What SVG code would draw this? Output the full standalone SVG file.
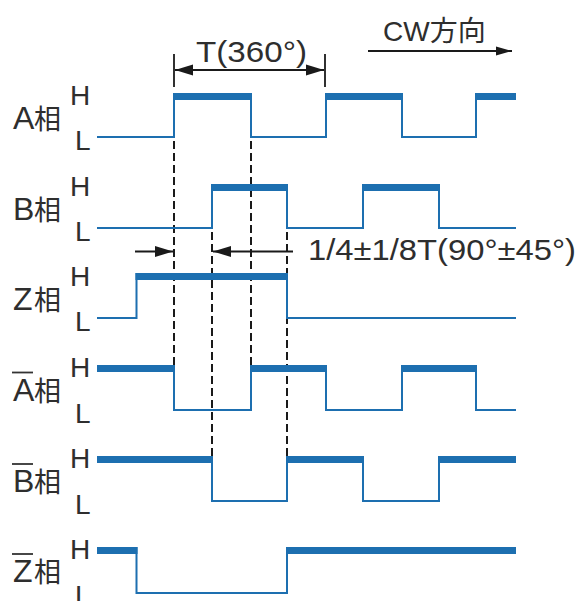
<svg xmlns="http://www.w3.org/2000/svg" width="578" height="601" viewBox="0 0 578 601">
<style>
.t{font-family:"Liberation Sans","Noto Sans CJK JP",sans-serif;fill:#2e2e2e}
.lab{font-size:32px}
.cjk{font-family:"Noto Sans CJK JP",sans-serif;font-size:27px}
.hl{font-size:28px}
.sig{fill:none;stroke:#1d6fb0;stroke-width:2}
.bar{fill:#1d6fb0}
.dash{fill:none;stroke:#1a1a1a;stroke-width:2;stroke-dasharray:8 4}
.dim{fill:none;stroke:#1a1a1a;stroke-width:1.8}
.ovl{stroke:#333;stroke-width:1.8}
</style>
<defs>
<marker id="ah" markerUnits="userSpaceOnUse" markerWidth="20" markerHeight="12" refX="18" refY="6" orient="auto-start-reverse">
<path d="M0,0.5 L18,6 L0,11.5 Z" fill="#1a1a1a"/>
</marker>
<marker id="ah2" markerUnits="userSpaceOnUse" markerWidth="17" markerHeight="10" refX="16" refY="5" orient="auto">
<path d="M0,0.5 L16,5 L0,9.5 Z" fill="#1a1a1a"/>
</marker>
</defs>
<rect width="578" height="601" fill="#fff"/>

<g id="connectors">
<line class="dash" x1="174" y1="141" x2="174" y2="366"/>
<line class="dash" x1="251" y1="141" x2="251" y2="366"/>
<line class="dash" x1="212" y1="232" x2="212" y2="457"/>
<line class="dash" x1="287" y1="232" x2="287" y2="457"/>
<line class="dim" x1="174" y1="54" x2="174" y2="87"/>
<line class="dim" x1="325" y1="54" x2="325" y2="87"/>
<line class="dim" x1="175" y1="70" x2="324" y2="70" marker-start="url(#ah)" marker-end="url(#ah)"/>
<path class="dim" d="M135,251.5 H173" marker-end="url(#ah)"/>
<path class="dim" d="M293,251.5 H213" marker-end="url(#ah)"/>
<path class="dim" d="M368,51 H512" marker-end="url(#ah2)"/>
<text class="t" x="196" y="62" font-size="30" textLength="111" lengthAdjust="spacingAndGlyphs">T(360°)</text>
<text class="t" x="383" y="41" font-size="28">CW方向</text>
<text class="t" x="308" y="260" font-size="30" textLength="268" lengthAdjust="spacingAndGlyphs">1/4±1/8T(90°±45°)</text>
</g>

<g id="phaseA">
<text class="t lab" x="13" y="129">A</text><text class="t cjk" x="34" y="129">相</text>
<text class="t hl" x="70" y="105">H</text><text class="t hl" x="75" y="150">L</text>
<path class="sig" d="M97,137 H174 V93 M251,93 V137 H326 V93 M402,93 V137 H476 V93"/>
<rect class="bar" x="173" y="93" width="79" height="7"/>
<rect class="bar" x="325" y="93" width="78" height="7"/>
<rect class="bar" x="475" y="93" width="41" height="7"/>
</g>

<g id="phaseB">
<text class="t lab" x="13" y="220">B</text><text class="t cjk" x="34" y="220">相</text>
<text class="t hl" x="70" y="196">H</text><text class="t hl" x="75" y="241">L</text>
<path class="sig" d="M97,228 H212 V184 M287,184 V228 H363 V184 M439,184 V228 H516"/>
<rect class="bar" x="211" y="184" width="77" height="7"/>
<rect class="bar" x="362" y="184" width="78" height="7"/>
</g>

<g id="phaseZ">
<text class="t lab" x="13" y="310">Z</text><text class="t cjk" x="34" y="310">相</text>
<text class="t hl" x="70" y="286">H</text><text class="t hl" x="75" y="331">L</text>
<path class="sig" d="M97,318 H136.5 V273 M287,273 V318 H516"/>
<rect class="bar" x="135.5" y="273" width="152.5" height="7"/>
</g>

<g id="phaseAbar">
<line class="ovl" x1="12" y1="372.5" x2="33" y2="372.5"/>
<text class="t lab" x="13" y="401">A</text><text class="t cjk" x="34" y="401">相</text>
<text class="t hl" x="70" y="377">H</text><text class="t hl" x="75" y="423">L</text>
<path class="sig" d="M174,365 V410 H251 V365 M326,365 V410 H402 V365 M476,365 V410 H516"/>
<rect class="bar" x="97" y="365" width="78" height="7"/>
<rect class="bar" x="250" y="365" width="77" height="7"/>
<rect class="bar" x="401" y="365" width="76" height="7"/>
</g>

<g id="phaseBbar">
<line class="ovl" x1="12" y1="464" x2="33" y2="464"/>
<text class="t lab" x="13" y="492">B</text><text class="t cjk" x="34" y="492">相</text>
<text class="t hl" x="70" y="468">H</text><text class="t hl" x="75" y="514">L</text>
<path class="sig" d="M212,456 V501 H287 V456 M363,456 V501 H439 V456"/>
<rect class="bar" x="97" y="456" width="116" height="7"/>
<rect class="bar" x="286" y="456" width="78" height="7"/>
<rect class="bar" x="438" y="456" width="78" height="7"/>
</g>

<g id="phaseZbar">
<line class="ovl" x1="12" y1="554" x2="33" y2="554"/>
<text class="t lab" x="13" y="582">Z</text><text class="t cjk" x="34" y="582">相</text>
<text class="t hl" x="70" y="559">H</text><text class="t hl" x="75" y="605">L</text>
<path class="sig" d="M136.5,547 V593 H287 V547"/>
<rect class="bar" x="97" y="547" width="40.5" height="7"/>
<rect class="bar" x="286" y="547" width="230" height="7"/>
</g>
</svg>
